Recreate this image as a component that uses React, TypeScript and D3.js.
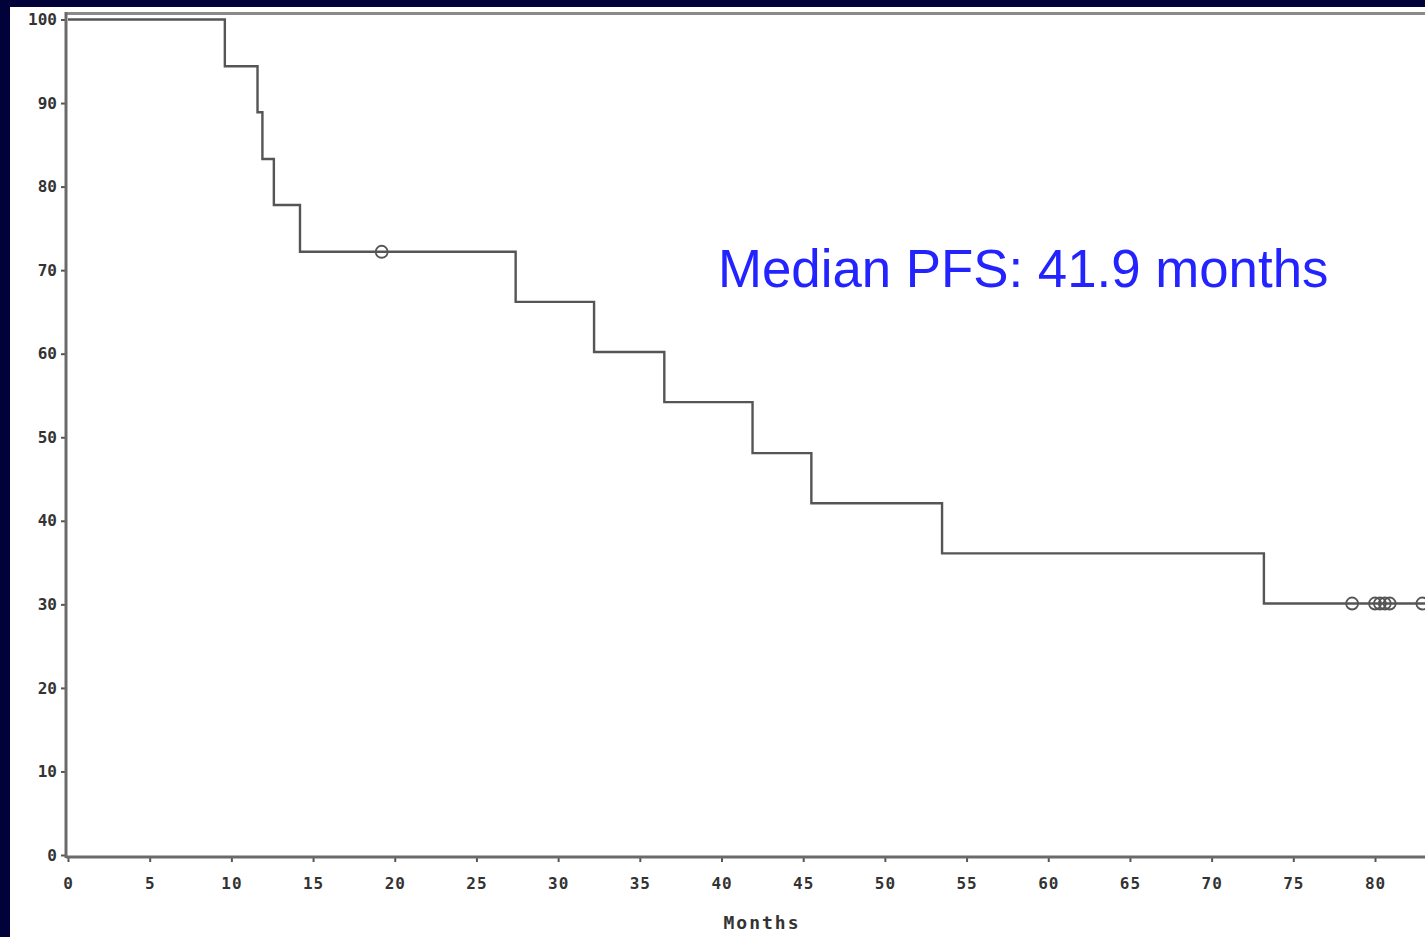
import React, { useEffect, useRef } from 'react';
import { select, scaleLinear, line, curveStepAfter, axisBottom, axisLeft, range } from 'd3';

// Kaplan-Meier steps (months, % progression-free)
const eventTimes = [0, 9.6, 11.6, 11.9, 12.6, 14.2, 27.4, 32.2, 36.5, 41.9, 45.5, 53.5, 73.2];
const survival = [100, 94.4, 88.9, 83.3, 77.8, 72.2, 66.2, 60.2, 54.2, 48.1, 42.1, 36.1, 30.1];
const censorTimes = [19.2, 78.6, 80.0, 80.3, 80.6, 80.9, 82.9];
const lastFollowUp = 84;
const xTicks = range(0, 81, 5);
const yTicks = range(0, 101, 10);
const annotation = 'Median PFS: 41.9 months';
const xLabel = 'Months';

function App() {
  const ref = useRef<SVGSVGElement>(null);

  useEffect(() => {
    const W = 1425, H = 937;
    const svg = select(ref.current);
    svg.selectAll('*').remove();

    // slide background
    svg.append('rect').attr('width', W).attr('height', H).attr('fill', '#02023a');
    svg.append('rect').attr('x', 10).attr('y', 7).attr('width', W - 10).attr('height', H - 7).attr('fill', '#ffffff');

    const xScale = scaleLinear().domain([0, 80]).range([68, 1375]);
    const yScale = scaleLinear().domain([0, 100]).range([855, 19.5]);

    const tickFont = "'DejaVu Sans Mono', monospace";

    // frame top
    svg.append('line')
      .attr('x1', 66).attr('x2', W).attr('y1', 13.5).attr('y2', 13.5)
      .attr('stroke', '#8a8a8a').attr('stroke-width', 3);

    // x axis
    const gx = svg.append('g').attr('transform', 'translate(0,857)')
      .call(axisBottom(xScale).tickValues(xTicks).tickSize(5).tickSizeOuter(0).tickPadding(16).tickFormat(d => String(d)));
    gx.select('.domain').remove();
    gx.selectAll('.tick line').attr('stroke', '#555').attr('stroke-width', 2);
    gx.selectAll('.tick text')
      .attr('font-family', tickFont).attr('font-weight', 'bold').attr('font-size', 16)
      .attr('fill', '#333').attr('letter-spacing', 1);
    svg.append('line')
      .attr('x1', 66).attr('x2', W).attr('y1', 857).attr('y2', 857)
      .attr('stroke', '#6a6a6a').attr('stroke-width', 3);

    // y axis
    const gy = svg.append('g').attr('transform', 'translate(66,0)')
      .call(axisLeft(yScale).tickValues(yTicks).tickSize(5).tickSizeOuter(0).tickPadding(4).tickFormat(d => String(d)));
    gy.select('.domain').remove();
    gy.selectAll('.tick line').attr('stroke', '#555').attr('stroke-width', 2);
    gy.selectAll('.tick text')
      .attr('font-family', tickFont).attr('font-weight', 'bold').attr('font-size', 16)
      .attr('fill', '#333');
    svg.append('line')
      .attr('x1', 66).attr('x2', 66).attr('y1', 12).attr('y2', 858)
      .attr('stroke', '#6a6a6a').attr('stroke-width', 3);

    // x axis title
    svg.append('text')
      .attr('x', 762).attr('y', 929).attr('text-anchor', 'middle')
      .attr('font-family', tickFont).attr('font-weight', 'bold').attr('font-size', 18)
      .attr('letter-spacing', 2).attr('fill', '#333')
      .text(xLabel);

    // survival step curve
    const steps = eventTimes.map((t, i) => [t, survival[i]] as [number, number]);
    steps.push([lastFollowUp, survival[survival.length - 1]]);
    const lineGenerator = line<[number, number]>()
      .x(d => xScale(d[0]))
      .y(d => yScale(d[1]))
      .curve(curveStepAfter);
    svg.append('path')
      .datum(steps)
      .attr('fill', 'none')
      .attr('stroke', '#555')
      .attr('stroke-width', 2.4)
      .attr('d', lineGenerator);

    // censor marks
    const survAt = (t: number) => {
      let s = survival[0];
      eventTimes.forEach((et, i) => { if (et <= t) s = survival[i]; });
      return s;
    };
    svg.append('g').selectAll('circle')
      .data(censorTimes)
      .join('circle')
      .attr('cx', d => xScale(d))
      .attr('cy', d => yScale(survAt(d)))
      .attr('r', 6)
      .attr('fill', 'none')
      .attr('stroke', '#555')
      .attr('stroke-width', 1.8);

    // annotation
    svg.append('text')
      .attr('x', 718).attr('y', 287)
      .attr('font-family', "'Liberation Sans', Arial, sans-serif")
      .attr('font-size', 52.8)
      .attr('fill', '#2323ff')
      .text(annotation);
  }, []);

  return <svg ref={ref} width={1425} height={937} style={{ position: 'absolute', left: 0, top: 0 }} />;
}

export default App;
